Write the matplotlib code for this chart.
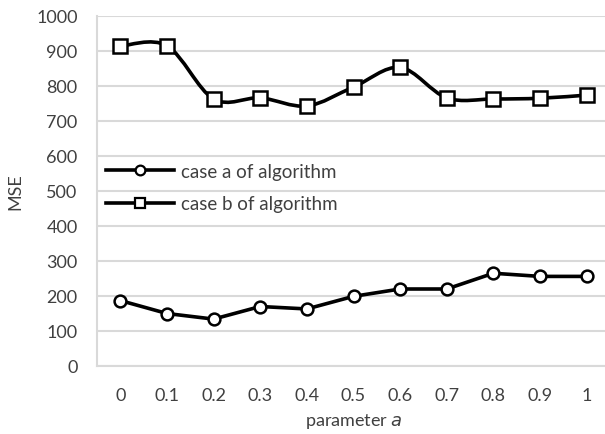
import numpy as np
import matplotlib
matplotlib.use("Agg")
from matplotlib import pyplot as plt
from matplotlib.path import Path
from matplotlib.patches import PathPatch
from matplotlib.lines import Line2D

# values
params = ["0", "0.1", "0.2", "0.3", "0.4", "0.5", "0.6", "0.7", "0.8", "0.9", "1"]
case_a = [187, 150, 134, 170, 163, 199, 220, 220, 265, 256, 256]
case_b = [914, 915, 763, 766, 743, 797, 853, 766, 763, 765, 774]

plt.rcParams['font.family'] = ['Lato', 'DejaVu Sans']
text_color = "#404040"

fig = plt.figure(figsize=(6.05, 4.35), dpi=100)
ax = fig.add_axes([97/605, 68/435, 513/605, 350/435])

x = np.arange(len(params))


def smooth_path(xs, ys):
    # excel-style smoothed line: cubic bezier through the points
    pts = np.column_stack([xs, ys]).astype(float)
    verts = [pts[0]]
    codes = [Path.MOVETO]
    n = len(pts)
    for i in range(n - 1):
        p0 = pts[i - 1] if i > 0 else pts[i]
        p1 = pts[i]
        p2 = pts[i + 1]
        p3 = pts[i + 2] if i + 2 < n else pts[i + 1]
        c1 = p1 + (p2 - p0) / 6
        c2 = p2 - (p3 - p1) / 6
        verts += [c1, c2, p2]
        codes += [Path.CURVE4] * 3
    return Path(verts, codes)


ax.plot(x, case_a, color="black", lw=2.6, marker="o", ms=8.5,
        mfc="white", mec="black", mew=1.8, zorder=3)
ax.add_patch(PathPatch(smooth_path(x, case_b), fill=False, edgecolor="black",
                       lw=2.6, zorder=3))
ax.plot(x, case_b, ls="none", marker="s", ms=9.5, mfc="white", mec="black",
        mew=1.8, zorder=4)

ax.set_xlim(-0.5, len(params) - 0.5)
ax.set_ylim(0, 1000)
ax.set_yticks(np.arange(0, 1001, 100))
ax.set_xticks(x)
ax.set_xticklabels(params)
ax.grid(axis="y", color="#d9d9d9", lw=1.5)
ax.set_axisbelow(True)
for s in ["top", "right"]:
    ax.spines[s].set_visible(False)
ax.spines["left"].set_color("#d9d9d9")
ax.spines["left"].set_linewidth(1.5)
ax.spines["bottom"].set_color("#d9d9d9")
ax.spines["bottom"].set_linewidth(1.5)
ax.tick_params(length=0, labelsize=13, labelcolor=text_color)
ax.tick_params(axis="y", pad=14)
ax.tick_params(axis="x", pad=15)

ax.set_ylabel("MSE", fontsize=13, color=text_color, labelpad=9)
ax.set_xlabel("parameter $\\it{a}$", fontsize=13, color=text_color, labelpad=6)

handles = [
    Line2D([], [], color="black", lw=2.6, marker="o", ms=7, mfc="white",
           mec="black", mew=1.6),
    Line2D([], [], color="black", lw=2.6, marker="s", ms=7, mfc="white",
           mec="black", mew=1.6),
]
ax.legend(handles, ["case a of algorithm", "case b of algorithm"],
          loc="center left", bbox_to_anchor=(-0.015, 0.51), frameon=False,
          fontsize=13.5, handlelength=3.6, handletextpad=0.4, labelspacing=0.85,
          labelcolor=text_color)

fig.savefig("out.png", dpi=100)
